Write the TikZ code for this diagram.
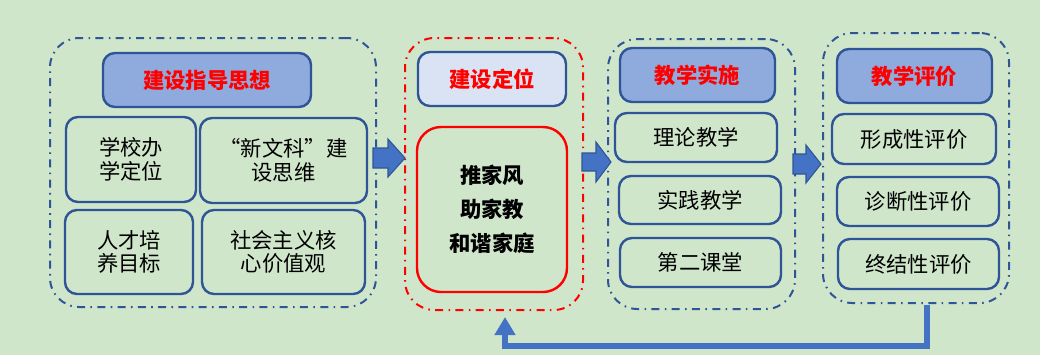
\documentclass[tikz,border=0pt]{standalone}
\usepackage{fontspec}
\newfontfamily\cjk{Noto Sans CJK SC}
\usetikzlibrary{arrows.meta}
\definecolor{bg}{RGB}{208,230,203}
\definecolor{dblue}{RGB}{47,85,151}
\definecolor{tblue}{RGB}{143,170,220}
\definecolor{lblue}{RGB}{218,227,243}
\definecolor{mblue}{RGB}{68,114,196}
\definecolor{myred}{RGB}{255,0,0}
\newcommand\blockarr[7]{% x y len headstart shafthalf headhalf name
  \coordinate (#7) at (#1,#2);
  \draw[barrowst] (#7) ++(0,-#5) -- ++(#4,0) -- ++(0,-#6+#5) -- ++(#3-#4,#6) -- ++(-#3+#4,#6) -- ++(0,-#6+#5) -- ++(-#4,0) -- cycle;}
\begin{document}
\begin{tikzpicture}[x=0.75pt,y=-0.75pt,
  sz/.style 2 args={minimum width=#1*0.75pt, minimum height=#2*0.75pt},
  grp/.style={draw=dblue, line width=1.5pt, dash pattern=on 6pt off 4pt on 1.2pt off 4pt, rounded corners=22pt, inner sep=0},
  redgrp/.style={grp, draw=myred},
  titlebox/.style={draw=dblue, fill=tblue, line width=1.8pt, rounded corners=9pt, text=myred, inner sep=0, font=\cjk\bfseries\fontsize{16}{18}\selectfont},
  itembox/.style={draw=dblue, line width=1.8pt, rounded corners=9pt, align=center, inner sep=0, font=\cjk\fontsize{16}{17.8}\selectfont},
  barrowst/.style={fill=mblue, draw=dblue, line width=0.8pt, line join=miter},
  fb/.style={draw=mblue, line width=4.5pt, line join=miter, -{Triangle[width=15pt,length=13.5pt]}}
]
\path[use as bounding box, fill=bg] (0,0) rectangle (1040,355);

% group 1
\node[grp, sz={326}{269}] (G1) at (213,172.5) {};
\node[titlebox, sz={208}{54}] (T1) at (207,80) {建设指导思想};
\node[itembox, sz={130}{85}] (B11) at (131,159.5) {学校办\\学定位};
\node[itembox, sz={167}{85}] (B12) at (283.5,160.5) {“新文科”建\\设思维};
\node[itembox, sz={128}{84}] (B13) at (129,252) {人才培\\养目标};
\node[itembox, sz={163}{84}] (B14) at (283.5,252) {社会主义核\\心价值观};

% group 2
\node[redgrp, sz={178}{272}] (G2) at (494,174) {};
\node[titlebox, fill=lblue, sz={148}{54}] (T2) at (492,79) {建设定位};
\node[itembox, draw=myred, rounded corners=18pt, sz={150}{165}, font=\cjk\bfseries\fontsize{16}{25.5}\selectfont] (B2) at (492,209.5) {推家风\\助家教\\和谐家庭};

% group 3
\node[grp, sz={187}{270}] (G3) at (701.5,174) {};
\node[titlebox, sz={155}{54}] (T3) at (697.5,75) {教学实施};
\node[itembox, sz={162}{49}] (B31) at (696,137.5) {理论教学};
\node[itembox, sz={162}{48}] (B32) at (700,200) {实践教学};
\node[itembox, sz={161}{49}] (B33) at (700.5,262.5) {第二课堂};

% group 4
\node[grp, sz={186}{270}] (G4) at (916,168) {};
\node[titlebox, sz={155}{54}] (T4) at (914.5,76) {教学评价};
\node[itembox, sz={164}{50}] (B41) at (914,139) {形成性评价};
\node[itembox, sz={162}{49}] (B42) at (918,201.5) {诊断性评价};
\node[itembox, sz={161}{50}] (B43) at (918.5,264) {终结性评价};

% block arrows
\blockarr{373}{158}{32}{15}{10}{19}{A1}
\blockarr{582}{162}{29}{14}{9}{20}{A2}
\blockarr{793}{164}{28}{13}{10}{19}{A3}

% feedback
\coordinate (fbs) at (927,305);
\coordinate (fbt) at (505,317);
\draw[fb] (fbs) -- (927,346) -| (fbt);
\end{tikzpicture}
\end{document}
